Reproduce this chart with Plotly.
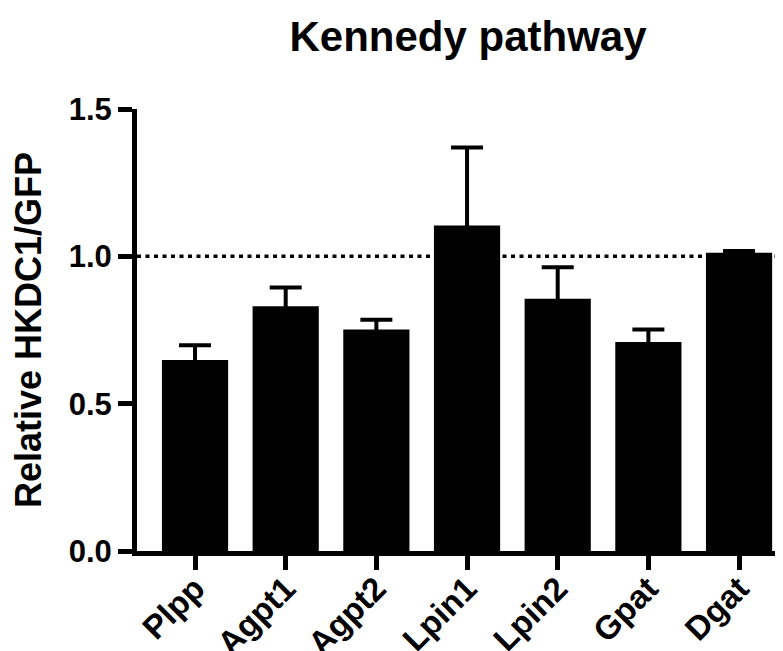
import plotly.graph_objects as go

categories = ["Plpp", "Agpt1", "Agpt2", "Lpin1", "Lpin2", "Gpat", "Dgat"]
values = [0.648, 0.831, 0.752, 1.105, 0.856, 0.709, 1.012]
errors = [0.050, 0.063, 0.033, 0.264, 0.107, 0.043, 0.006]
y_ticks = [0.0, 0.5, 1.0, 1.5]
y_tick_labels = ["0.0", "0.5", "1.0", "1.5"]
reference_level = 1.0

FONT = "Liberation Sans"

fig = go.Figure()
fig.add_trace(go.Bar(
    x=list(range(len(categories))),
    y=values,
    width=0.73,
    marker=dict(color="black", line=dict(width=0)),
    # upper-only error bars; the lower cap is hidden inside the bar
    error_y=dict(type="data", symmetric=False, array=errors,
                 arrayminus=[0.03] * len(errors),
                 color="black", thickness=4, width=16),
    showlegend=False,
))

fig.add_shape(type="line", xref="paper", yref="y", x0=0, x1=1,
              y0=reference_level, y1=reference_level,
              line=dict(color="black", width=3.5, dash="4px,4.5px"), layer="below")

fig.update_layout(
    width=783, height=651,
    margin=dict(l=129, r=0, t=100.5, b=107.5),
    paper_bgcolor="white", plot_bgcolor="white",
    title=dict(text="Kennedy pathway", x=460/783, xref="container", xanchor="center",
               y=1 - 28/651, yref="container", yanchor="middle",
               font=dict(family=FONT, size=42, color="black", weight="bold")),
)
fig.update_xaxes(
    range=[-0.64, 6.573], automargin=False,
    tickmode="array", tickvals=list(range(len(categories))), ticktext=categories,
    tickangle=-45, ticklabelstandoff=-14,
    tickfont=dict(family=FONT, size=33, color="black", weight="bold"),
    showline=True, linecolor="black", linewidth=5,
    ticks="outside", ticklen=14, tickwidth=5, tickcolor="black",
    showgrid=False, zeroline=False,
)
fig.update_yaxes(
    range=[0, 1.5], automargin=False,
    tickmode="array", tickvals=y_ticks, ticktext=y_tick_labels,
    tickfont=dict(family=FONT, size=31, color="black", weight="bold"),
    title=dict(text="Relative HKDC1/GFP", standoff=20,
               font=dict(family=FONT, size=36, color="black", weight="bold")),
    showline=True, linecolor="black", linewidth=5,
    ticks="outside", ticklen=14, tickwidth=5, tickcolor="black",
    showgrid=False, zeroline=False,
)

fig.write_html("out.html")
